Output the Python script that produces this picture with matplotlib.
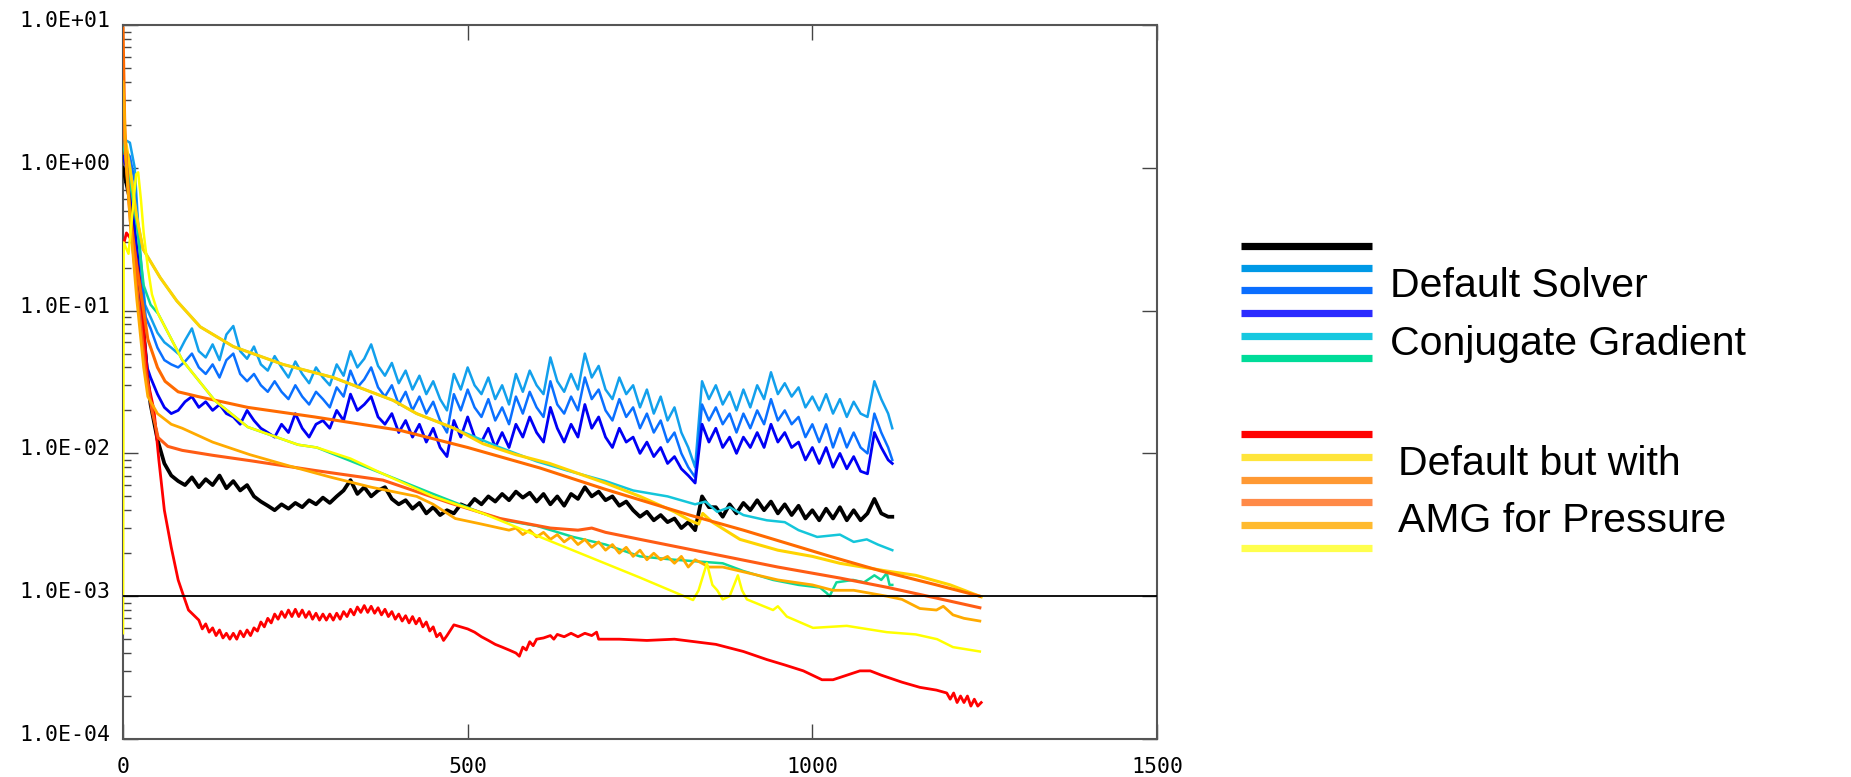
import numpy as np
import matplotlib.pyplot as plt
import matplotlib.transforms as mtransforms
from matplotlib.lines import Line2D
from matplotlib.ticker import FixedLocator, LogLocator, FuncFormatter, NullFormatter

# ---- data (residual vs iteration) ----
# every 10th iteration for the noisy default-solver traces
grid = list(range(40, 1120, 10))

black_head_x = [0, 10, 20, 30, 36]
black_head_y = [1.0, 0.6, 0.25, 0.07, 0.032]
black_y = [0.022, 0.0125, 0.0085, 0.0070, 0.0064, 0.0060, 0.0068, 0.0058, 0.0066, 0.0060,
           0.0070, 0.0057, 0.0064, 0.0055, 0.0060, 0.0050, 0.0046, 0.0043, 0.0040, 0.0044,
           0.0041, 0.0045, 0.0042, 0.0047, 0.0044, 0.0049, 0.0045, 0.0050, 0.0055, 0.0065,
           0.0052, 0.0058, 0.0050, 0.0055, 0.0058, 0.0048, 0.0044, 0.0047, 0.0041, 0.0045,
           0.0038, 0.0042, 0.0037, 0.0040, 0.0038, 0.0044, 0.0042, 0.0048, 0.0044, 0.0050,
           0.0046, 0.0052, 0.0047, 0.0054, 0.0049, 0.0053, 0.0046, 0.0052, 0.0044, 0.0050,
           0.0043, 0.0052, 0.0048, 0.0058, 0.0050, 0.0054, 0.0047, 0.0050, 0.0043, 0.0046,
           0.0040, 0.0036, 0.0039, 0.0034, 0.0037, 0.0033, 0.0035, 0.0030, 0.0033, 0.0029,
           0.0050, 0.0042, 0.0042, 0.0036, 0.0044, 0.0038, 0.0045, 0.0040, 0.0047, 0.0040,
           0.0046, 0.0038, 0.0044, 0.0037, 0.0043, 0.0035, 0.0040, 0.0034, 0.0041, 0.0035,
           0.0042, 0.0034, 0.0040, 0.0034, 0.0038, 0.0048, 0.0038, 0.0036]
black_tail = (1116, 0.0036)

lblue_head_x = [0, 10, 17, 22, 28, 32]
lblue_head_y = [1.6, 1.5, 1.0, 0.4, 0.17, 0.11]
lblue_y = [0.090, 0.070, 0.060, 0.055, 0.050, 0.062, 0.075, 0.052, 0.047, 0.058,
           0.045, 0.068, 0.078, 0.052, 0.046, 0.056, 0.042, 0.038, 0.048, 0.040,
           0.034, 0.044, 0.036, 0.031, 0.040, 0.034, 0.030, 0.042, 0.035, 0.052,
           0.040, 0.046, 0.058, 0.041, 0.035, 0.043, 0.031, 0.038, 0.028, 0.035,
           0.026, 0.032, 0.024, 0.020, 0.036, 0.028, 0.040, 0.030, 0.026, 0.034,
           0.024, 0.030, 0.022, 0.036, 0.027, 0.038, 0.030, 0.026, 0.047, 0.032,
           0.027, 0.036, 0.028, 0.050, 0.034, 0.041, 0.028, 0.024, 0.034, 0.026,
           0.030, 0.021, 0.028, 0.019, 0.025, 0.017, 0.021, 0.014, 0.011, 0.008,
           0.032, 0.024, 0.030, 0.022, 0.027, 0.020, 0.028, 0.021, 0.030, 0.024,
           0.037, 0.026, 0.031, 0.025, 0.029, 0.021, 0.025, 0.020, 0.026, 0.019,
           0.024, 0.018, 0.023, 0.019, 0.018, 0.032, 0.024, 0.019]
lblue_tail = (1116, 0.015)

mblue_head_x = [0, 10, 17, 22, 28, 33]
mblue_head_y = [1.4, 1.2, 0.8, 0.35, 0.15, 0.09]
mblue_y = [0.075, 0.055, 0.045, 0.042, 0.040, 0.044, 0.050, 0.040, 0.036, 0.042,
           0.034, 0.045, 0.050, 0.036, 0.032, 0.036, 0.030, 0.027, 0.032, 0.027,
           0.024, 0.030, 0.025, 0.022, 0.027, 0.024, 0.021, 0.029, 0.025, 0.038,
           0.029, 0.033, 0.040, 0.029, 0.025, 0.030, 0.022, 0.027, 0.020, 0.025,
           0.019, 0.023, 0.017, 0.014, 0.026, 0.020, 0.028, 0.021, 0.018, 0.024,
           0.017, 0.021, 0.016, 0.025, 0.019, 0.027, 0.021, 0.018, 0.032, 0.022,
           0.019, 0.025, 0.020, 0.034, 0.024, 0.028, 0.020, 0.017, 0.024, 0.018,
           0.021, 0.015, 0.019, 0.014, 0.017, 0.012, 0.014, 0.010, 0.008, 0.0068,
           0.022, 0.017, 0.021, 0.016, 0.019, 0.014, 0.019, 0.015, 0.020, 0.016,
           0.024, 0.017, 0.020, 0.016, 0.018, 0.013, 0.016, 0.012, 0.016, 0.011,
           0.015, 0.011, 0.014, 0.011, 0.010, 0.019, 0.014, 0.011]
mblue_tail = (1116, 0.009)

dblue_head_x = [0, 8, 15, 22, 30, 35]
dblue_head_y = [1.2, 0.9, 0.5, 0.2, 0.07, 0.04]
dblue_y = [0.034, 0.026, 0.021, 0.019, 0.020, 0.023, 0.025, 0.021, 0.023, 0.020,
           0.022, 0.019, 0.018, 0.016, 0.020, 0.017, 0.015, 0.014, 0.013, 0.016,
           0.014, 0.019, 0.015, 0.013, 0.016, 0.017, 0.015, 0.020, 0.017, 0.026,
           0.020, 0.022, 0.025, 0.018, 0.016, 0.019, 0.014, 0.017, 0.013, 0.016,
           0.012, 0.015, 0.011, 0.0095, 0.017, 0.013, 0.018, 0.013, 0.012, 0.015,
           0.011, 0.014, 0.011, 0.016, 0.013, 0.018, 0.014, 0.012, 0.021, 0.015,
           0.012, 0.016, 0.013, 0.022, 0.015, 0.018, 0.013, 0.011, 0.015, 0.012,
           0.013, 0.010, 0.012, 0.0095, 0.011, 0.0085, 0.0095, 0.0078, 0.0070, 0.0062,
           0.016, 0.012, 0.015, 0.011, 0.013, 0.010, 0.013, 0.011, 0.014, 0.011,
           0.016, 0.012, 0.014, 0.011, 0.012, 0.009, 0.011, 0.0085, 0.011, 0.008,
           0.010, 0.0078, 0.0095, 0.0075, 0.0072, 0.014, 0.011, 0.009]
dblue_tail = (1116, 0.0085)

cyan_x = [0, 10, 20, 29, 54, 78, 112, 160, 232, 305, 392, 426, 480, 547, 600, 644,
          700, 740, 790, 830, 845, 862, 880, 900, 934, 960, 980, 1007, 1040, 1060,
          1079, 1095, 1116]
cyan_y = [1.8, 1.0, 0.45, 0.27, 0.17, 0.117, 0.077, 0.056, 0.042, 0.034, 0.0235, 0.019,
          0.015, 0.011, 0.0088, 0.0076, 0.0064, 0.0055, 0.005, 0.0044, 0.0046, 0.0039,
          0.0042, 0.0037, 0.0034, 0.0033, 0.0029, 0.0026, 0.0027, 0.0024, 0.0025,
          0.0023, 0.0021]

teal_x = [0, 10, 20, 30, 40, 51, 86, 133, 181, 254, 281, 377, 450, 522, 554, 601,
          653, 700, 750, 800, 870, 900, 943, 980, 1011, 1021, 1025, 1035, 1059, 1075,
          1090, 1100, 1108, 1112, 1116]
teal_y = [1.5, 0.8, 0.4, 0.15, 0.11, 0.095, 0.045, 0.0235, 0.0153, 0.0115, 0.011,
          0.0072, 0.0052, 0.0038, 0.0034, 0.0031, 0.0026, 0.0023, 0.0019, 0.0018,
          0.0017, 0.0015, 0.0013, 0.0012, 0.00115, 0.00105, 0.0010, 0.00125, 0.0013,
          0.00125, 0.0014, 0.0013, 0.00145, 0.0012, 0.0012]

red_x = [0, 5, 15, 25, 36, 45, 52, 60, 70, 80, 88, 95, 110,
         115, 120, 125, 130, 135, 140, 145, 150, 155, 160, 165, 170, 175, 180, 185,
         190, 195, 200, 205, 210, 215, 220, 225, 230, 235, 240, 245, 250, 255, 260,
         265, 270, 275, 280, 285, 290, 295, 300, 305, 310, 315, 320, 325, 330, 335,
         340, 345, 350, 355, 360, 365, 370, 375, 380, 385, 390, 395, 400, 405, 410,
         415, 420, 425, 430, 435, 440, 445, 450, 455, 460, 465, 470,
         480, 490, 500, 510, 520, 530, 540, 550, 560, 570, 575, 580, 585, 590, 595,
         600, 610, 620, 625, 630, 640, 650, 660, 670, 680, 687, 690, 720, 760, 800,
         830, 860, 900, 934, 960, 987, 1000, 1014, 1030, 1050, 1069, 1084, 1100,
         1130, 1156, 1180, 1195, 1200, 1205, 1210, 1215, 1220, 1225, 1230, 1235,
         1240, 1245]
red_y = [0.28, 0.35, 0.3, 0.15, 0.032, 0.02, 0.009, 0.004, 0.0022, 0.0013, 0.001,
         0.0008, 0.00068,
         0.00059, 0.00064, 0.00056, 0.0006, 0.00053, 0.00058, 0.00051, 0.00055,
         0.0005, 0.00055, 0.0005, 0.00057, 0.00052, 0.00058, 0.00053, 0.0006,
         0.00057, 0.00066, 0.00061, 0.0007, 0.00065, 0.00075, 0.00069, 0.00078,
         0.00071, 0.0008, 0.00072, 0.00081, 0.00072, 0.0008, 0.00071, 0.00078,
         0.00069, 0.00076, 0.00068, 0.00075, 0.00068, 0.00075, 0.00068, 0.00076,
         0.00069, 0.00078, 0.00072, 0.00081, 0.00074, 0.00084, 0.00077, 0.00086,
         0.00077, 0.00085, 0.00076, 0.00083, 0.00074, 0.00081, 0.00072, 0.00078,
         0.00069, 0.00075, 0.00067, 0.00073, 0.00065, 0.00072, 0.00064, 0.0007,
         0.00061, 0.00066, 0.00057, 0.00061, 0.00052, 0.00055, 0.00049, 0.00053,
         0.00063, 0.00061, 0.00059, 0.00056, 0.00052, 0.00049, 0.00046, 0.00044,
         0.00042, 0.0004, 0.00038, 0.00044, 0.00042, 0.00048, 0.00045,
         0.0005, 0.00051, 0.00053, 0.0005, 0.00054, 0.00052, 0.00055, 0.00052,
         0.00055, 0.00053, 0.00056, 0.0005, 0.0005, 0.00049, 0.0005,
         0.00048, 0.00046, 0.00041, 0.00036, 0.00033, 0.0003, 0.00028, 0.00026,
         0.00026, 0.00028, 0.0003, 0.0003, 0.00028,
         0.00025, 0.00023, 0.00022, 0.00021, 0.00019, 0.00021, 0.00018, 0.0002,
         0.00018, 0.0002, 0.00017, 0.00019, 0.00017, 0.00018]

gold_x = [0, 10, 20, 29, 54, 78, 112, 160, 232, 305, 392, 426, 480, 522, 570, 619,
          700, 750, 800, 822, 835, 841, 855, 895, 950, 1000, 1040, 1108, 1150, 1200,
          1245]
gold_y = [2.0, 1.0, 0.45, 0.27, 0.17, 0.117, 0.077, 0.056, 0.042, 0.034, 0.0235,
          0.019, 0.015, 0.0117, 0.0098, 0.0085, 0.0062, 0.005, 0.0039, 0.0034, 0.0032,
          0.0038, 0.0033, 0.0025, 0.0021, 0.0019, 0.0017, 0.0015, 0.0014, 0.0012,
          0.00099]

orange1_x = [0, 3, 10, 20, 30, 36, 50, 61, 80, 109, 181, 278, 402, 500, 605, 700,
             822, 900, 1026, 1100, 1180, 1243]
orange1_y = [9.5, 1.5, 0.5, 0.2, 0.1, 0.063, 0.04, 0.032, 0.027, 0.025, 0.021, 0.018,
             0.0145, 0.011, 0.0079, 0.0056, 0.0037, 0.0029, 0.0019, 0.0015, 0.0012,
             0.001]

orange2_x = [0, 5, 12, 22, 32, 42, 51, 65, 86, 130, 184, 278, 377, 474, 547, 620,
             660, 680, 700, 750, 850, 950, 1040, 1110, 1180, 1243]
orange2_y = [3.0, 1.0, 0.35, 0.12, 0.04, 0.02, 0.0129, 0.0112, 0.0105, 0.0097, 0.0089,
             0.0076, 0.0065, 0.0045, 0.0035, 0.003, 0.0029, 0.003, 0.0028, 0.0025,
             0.002, 0.0016, 0.00134, 0.00115, 0.00097, 0.00083]

amber_x = [0, 2, 4, 10, 20, 30, 36, 50, 70, 86, 130, 184, 240, 302, 360, 426, 450,
           482, 520, 560, 570, 580, 590, 600, 610, 620, 630, 640, 650, 660, 670, 680,
           690, 700, 710, 720, 730, 740, 750, 760, 770, 780, 790, 800, 810, 820, 830,
           840, 850, 870, 895, 950, 1000, 1030, 1060, 1108, 1130, 1156, 1180, 1190,
           1204, 1220, 1243]
amber_y = [4.0, 2.5, 1.2, 0.45, 0.12, 0.04, 0.025, 0.019, 0.016, 0.015, 0.012, 0.0098,
           0.0082, 0.0068, 0.0058, 0.005, 0.0044, 0.0035, 0.0032, 0.0029, 0.0030,
           0.0027, 0.0029, 0.0026, 0.0028, 0.0025, 0.0027, 0.0024, 0.0026, 0.0023,
           0.0025, 0.0022, 0.0024, 0.0021, 0.0023, 0.0020, 0.0022, 0.0019, 0.0021,
           0.0018, 0.0020, 0.0018, 0.0019, 0.0017, 0.0019, 0.0016, 0.0018, 0.0017,
           0.0016, 0.0016, 0.0015, 0.0013, 0.0012, 0.0011, 0.0011, 0.001, 0.00095,
           0.00082, 0.0008, 0.00085, 0.00074, 0.0007, 0.00067]

yellow_x = [0, 1, 8, 14, 19, 22, 26, 30, 36, 42, 51, 86, 133, 181, 254, 281, 330,
            377, 450, 522, 560, 605, 750, 827, 835, 847, 855, 862, 870, 880, 892, 898,
            905, 943, 950, 963, 1001, 1050, 1108, 1150, 1181, 1204, 1243]
yellow_y = [0.00055, 0.3, 0.25, 0.5, 0.9, 0.93, 0.6, 0.35, 0.2, 0.13, 0.095, 0.045,
            0.0235, 0.0153, 0.0115, 0.011, 0.0092, 0.0072, 0.005, 0.0038, 0.0032,
            0.0026, 0.00135, 0.00094, 0.0011, 0.0017, 0.0012, 0.0011, 0.00095, 0.001,
            0.0014, 0.0011, 0.00095, 0.0008, 0.00085, 0.00072, 0.0006, 0.00062,
            0.00056, 0.00054, 0.0005, 0.00044, 0.00041]

legend_top = ["Default Solver", "Conjugate Gradient"]
legend_bottom = ["Default but with", "AMG for Pressure"]

# ---- figure ----
W, H = 1851, 777
fig = plt.figure(figsize=(W / 100, H / 100), dpi=100)
ax = fig.add_axes([123 / W, 1 - 739 / H, (1157 - 123) / W, (739 - 25) / H])

noisy = [
    (black_head_x, black_head_y, black_y, black_tail, "#000000", 2.7),
    (lblue_head_x, lblue_head_y, lblue_y, lblue_tail, "#12a0ec", 1.8),
    (mblue_head_x, mblue_head_y, mblue_y, mblue_tail, "#0a70ff", 1.8),
    (dblue_head_x, dblue_head_y, dblue_y, dblue_tail, "#0000f5", 2.0),
]
for hx, hy, body, tail, col, lw in noisy:
    xs = hx + grid + [tail[0]]
    ys = hy + body + [tail[1]]
    ax.plot(xs, ys, color=col, lw=lw, zorder=3)

ax.plot(cyan_x, cyan_y, color="#14c6da", lw=1.8, zorder=3)
ax.plot(teal_x, teal_y, color="#10d898", lw=1.8, zorder=3)
ax.plot(red_x, red_y, color="#ff0000", lw=2.0, zorder=3)
ax.plot(gold_x, gold_y, color="#ffd400", lw=2.2, zorder=3)
ax.plot(orange1_x, orange1_y, color="#ff6a00", lw=2.2, zorder=3)
ax.plot(orange2_x, orange2_y, color="#ff5c14", lw=2.2, zorder=3)
ax.plot(amber_x, amber_y, color="#ffaa00", lw=2.0, zorder=3)
ax.plot(yellow_x, yellow_y, color="#ffff00", lw=1.8, zorder=3)

ax.axhline(1e-3, color="black", lw=1.3, zorder=3)

ax.set_yscale("log")
ax.set_xlim(0, 1500)
ax.set_ylim(1e-4, 1e1)

ax.xaxis.set_major_locator(FixedLocator([0, 500, 1000, 1500]))
ax.xaxis.set_major_formatter(FuncFormatter(lambda v, p: f"{int(v)}"))
ax.yaxis.set_major_locator(FixedLocator([1e-4, 1e-3, 1e-2, 1e-1, 1e0, 1e1]))
ax.yaxis.set_major_formatter(FuncFormatter(lambda v, p: f"{v:.1E}"))
ax.yaxis.set_minor_locator(LogLocator(base=10, subs=range(2, 10)))
ax.yaxis.set_minor_formatter(NullFormatter())

for s in ax.spines.values():
    s.set_color("#555555")
    s.set_linewidth(1.5)

ax.tick_params(axis="x", which="major", direction="in", length=11, width=1.0,
               top=True, bottom=True, color="#444444", pad=13,
               labelsize=15.5, labelfontfamily="DejaVu Sans Mono")
ax.tick_params(axis="y", which="major", direction="in", length=11, width=1.0,
               left=True, right=True, color="#444444", pad=9,
               labelsize=15.5, labelfontfamily="DejaVu Sans Mono")
ax.tick_params(axis="y", which="minor", direction="in", length=6, width=1.0,
               left=True, right=False, color="#444444")

shift = mtransforms.ScaledTranslation(0, 6 / 100, fig.dpi_scale_trans)
for lab in ax.get_yticklabels():
    lab.set_transform(lab.get_transform() + shift)

# ---- legend drawn beside the axes ----
legend_colors_top = ["#000000", "#0099e6", "#0a6eff", "#2b2bff", "#17c8e0", "#00dc99"]
legend_colors_bottom = ["#ff0000", "#ffe53b", "#ff9933", "#ff8a48", "#ffba2e", "#ffff4d"]
top_rows = [246, 268, 290, 313, 336, 358]
bottom_rows = [434, 457, 480, 502, 525, 548]
for cols, rows in [(legend_colors_top, top_rows), (legend_colors_bottom, bottom_rows)]:
    for c, r in zip(cols, rows):
        fig.add_artist(Line2D([1241 / W, 1372 / W], [1 - r / H, 1 - r / H],
                              transform=fig.transFigure, color=c, lw=5.2,
                              solid_capstyle="butt"))

fam = ["Liberation Sans", "DejaVu Sans"]
for txt, bx, by in [(legend_top[0], 1390, 297), (legend_top[1], 1390, 355),
                    (legend_bottom[0], 1398, 475), (legend_bottom[1], 1398, 532)]:
    fig.text(bx / W, 1 - by / H, txt, fontsize=29.5, family=fam,
             ha="left", va="baseline")

fig.savefig("out.png", dpi=100)
